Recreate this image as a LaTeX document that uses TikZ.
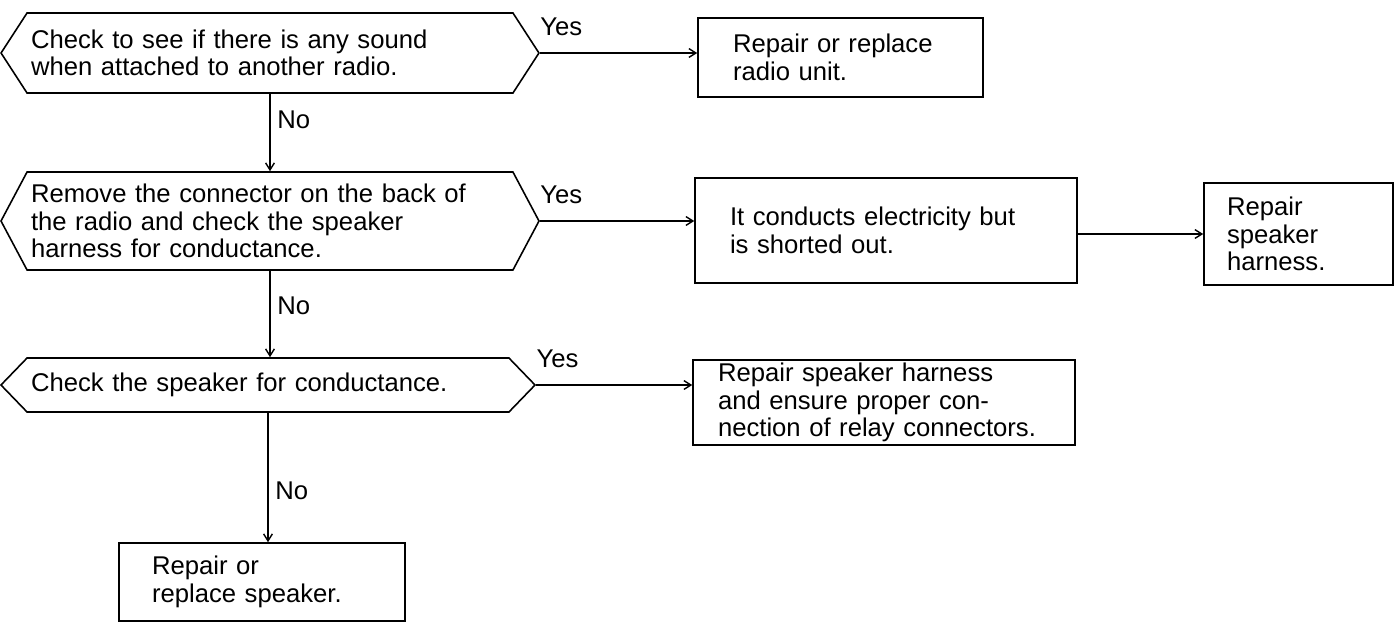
\documentclass[tikz,border=0pt]{standalone}
\usepackage{fontspec}
\setmainfont{Liberation Sans}
\usetikzlibrary{shapes.symbols, arrows.meta}

\begin{document}
\begin{tikzpicture}[
        x=0.02cm, y=-0.02cm,
        every node/.style={font=\fontsize{14.6}{15.6}\selectfont},
        query/.style={signal, signal to=east and west, draw, line width=0.9pt, inner xsep=0.08cm, inner ysep=0pt, align=left},
        answer/.style={rectangle, draw, line width=0.9pt, inner ysep=0pt, align=left},
        flow/.style={-{Straight Barb[length=4pt,width=5pt]}, line width=0.8pt},
        yes/.style={pos=0, anchor=base west, xshift=-3.5pt, yshift=10pt},
        no/.style={anchor=west, xshift=0.5pt},
    ]
    \useasboundingbox (0,0) rectangle (1395,622);

    % questions
    \node[query, signal pointer angle=114, minimum width=10.76cm, minimum height=1.6cm, text width=9.56cm] (q1) at (270,53)
        {Check to see if there is any sound\\when attached to another radio.};
    \node[query, signal pointer angle=124, minimum width=10.76cm, minimum height=1.96cm, text width=9.56cm] (q2) at (270,221)
        {Remove the connector on the back of\\the radio and check the speaker\\harness for conductance.};
    \node[query, signal pointer angle=92, minimum width=10.68cm, minimum height=1.08cm, text width=9.48cm] (q3) at (268,385)
        {Check the speaker for conductance.};

    % remedies
    \node[answer, minimum width=5.7cm, minimum height=1.58cm, inner xsep=0.7cm, text width=4.3cm] (r1) at (840.5,57.5)
        {Repair or replace\\radio unit.};
    \node[answer, minimum width=7.64cm, minimum height=2.1cm, inner xsep=0.7cm, text width=6.24cm] (r2) at (886,230.5)
        {It conducts electricity but\\is shorted out.};
    \node[answer, minimum width=3.78cm, minimum height=2.04cm, inner xsep=0.46cm, text width=2.86cm] (r3) at (1298.5,234)
        {Repair\\speaker\\harness.};
    \node[answer, minimum width=7.64cm, minimum height=1.7cm, inner xsep=0.5cm, text width=6.64cm] (r4) at (884,402.5)
        {Repair speaker harness\\and ensure proper con-\\\mbox{nection of relay connectors.}};
    \node[answer, minimum width=5.72cm, minimum height=1.56cm, inner xsep=0.66cm, text width=4.4cm] (r5) at (262,582)
        {Repair or\\replace speaker.};

    % yes / no branches
    \draw[flow] (q1.east) -- (q1.east -| r1.west) node[yes] {Yes};
    \draw[flow] (q1.south) -- (q2.north) node[no, pos=0.33] {No};
    \draw[flow] (q2.east) -- (q2.east -| r2.west) node[yes] {Yes};
    \draw[flow] (r2.east |- r3.west) -- (r3.west);
    \draw[flow] (q2.south) -- (q2.south |- q3.north) node[no, pos=0.4] {No};
    \draw[flow] (q3.east) -- (q3.east -| r4.west) node[yes] {Yes};
    \draw[flow] (q3.south) -- (q3.south |- r5.north) node[no, pos=0.6] {No};
\end{tikzpicture}
\end{document}
